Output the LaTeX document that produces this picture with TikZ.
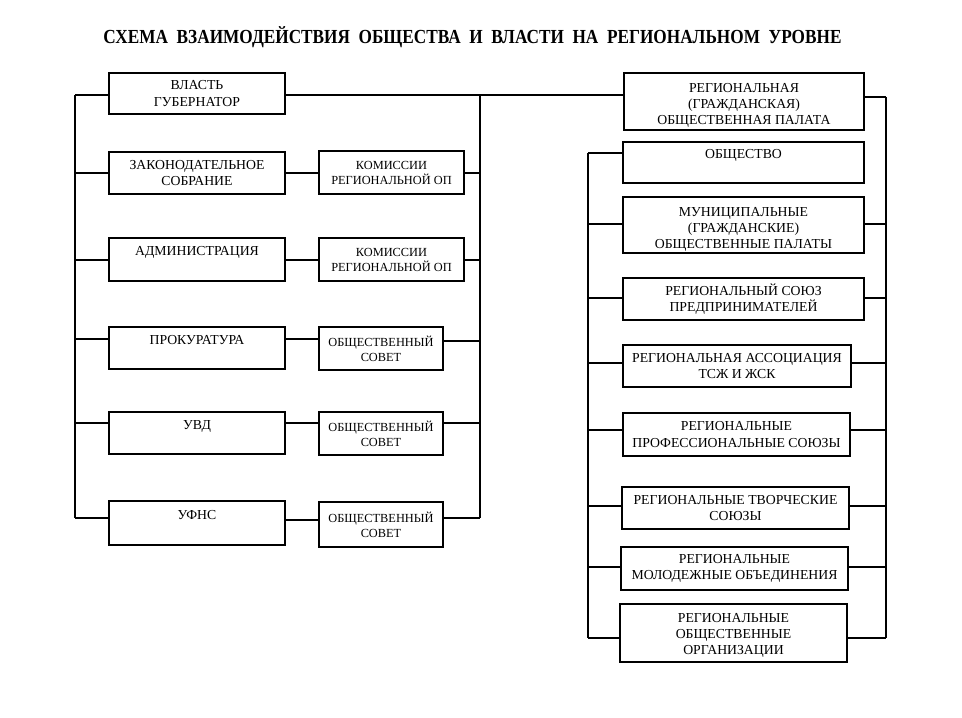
\documentclass[tikz,border=0pt]{standalone}
\usepackage{fontspec}
\setmainfont{Liberation Serif}
\begin{document}
\begin{tikzpicture}[x=1bp,y=-1bp,
  box/.style={draw=black, line width=2bp, align=center, inner sep=0pt,
    font=\fontsize{13.8}{17}\selectfont},
  midbox/.style={box, font=\fontsize{12.4}{15}\selectfont},
  rbox/.style={box, font=\fontsize{13.8}{16.2}\selectfont},
  conn/.style={draw=black, line width=2bp}]
\useasboundingbox[fill=white] (0,0) rectangle (962,718);
% title
\node[font=\fontsize{20}{24}\selectfont\bfseries] (title) at (472.5,37)
  {\scalebox{0.865}[1]{СХЕМА\ \ ВЗАИМОДЕЙСТВИЯ\ \ ОБЩЕСТВА\ \ И\ \ ВЛАСТИ\ \ НА\ \ РЕГИОНАЛЬНОМ\ \ УРОВНЕ}};
% left column
\node[box, minimum width=176bp, minimum height=41bp] (gov) at (197,93.5) {ВЛАСТЬ\\ГУБЕРНАТОР};
\node[box, minimum width=176bp, minimum height=42bp] (zak) at (197,173) {ЗАКОНОДАТЕЛЬНОЕ\\СОБРАНИЕ};
\node[box, minimum width=176bp, minimum height=43bp] (adm) at (197,259.5) {АДМИНИСТРАЦИЯ\\\mbox{}};
\node[box, minimum width=176bp, minimum height=42bp] (prok) at (197,348) {ПРОКУРАТУРА\\\mbox{}};
\node[box, minimum width=176bp, minimum height=42bp] (uvd) at (197,433) {УВД\\\mbox{}};
\node[box, minimum width=176bp, minimum height=44bp] (ufns) at (197,523) {УФНС\\\mbox{}};
% middle column
\node[midbox, minimum width=145bp, minimum height=43bp] (kom1) at (391.5,172.5) {КОМИССИИ\\РЕГИОНАЛЬНОЙ ОП};
\node[midbox, minimum width=145bp, minimum height=43bp] (kom2) at (391.5,259.5) {КОМИССИИ\\РЕГИОНАЛЬНОЙ ОП};
\node[midbox, minimum width=124bp, minimum height=43bp] (sov1) at (381,348.5) {ОБЩЕСТВЕННЫЙ\\СОВЕТ};
\node[midbox, minimum width=124bp, minimum height=43bp] (sov2) at (381,433.5) {ОБЩЕСТВЕННЫЙ\\СОВЕТ};
\node[midbox, minimum width=124bp, minimum height=45bp] (sov3) at (381,524.5) {ОБЩЕСТВЕННЫЙ\\СОВЕТ};
% right column
\node[rbox, minimum width=240bp, minimum height=57bp] (rop) at (744,101.5) {\rule{0pt}{17pt}РЕГИОНАЛЬНАЯ\\(ГРАЖДАНСКАЯ)\\ОБЩЕСТВЕННАЯ ПАЛАТА};
\node[rbox, minimum width=241bp, minimum height=41bp] (obsh) at (743.5,162.5) {ОБЩЕСТВО\\\mbox{}};
\node[rbox, minimum width=241bp, minimum height=56bp] (mun) at (743.5,225) {\rule{0pt}{18pt}МУНИЦИПАЛЬНЫЕ\\(ГРАЖДАНСКИЕ)\\ОБЩЕСТВЕННЫЕ ПАЛАТЫ};
\node[rbox, minimum width=241bp, minimum height=42bp] (soyuz) at (743.5,299) {РЕГИОНАЛЬНЫЙ СОЮЗ\\ПРЕДПРИНИМАТЕЛЕЙ};
\node[rbox, minimum width=228bp, minimum height=42bp] (assoc) at (737,366) {РЕГИОНАЛЬНАЯ АССОЦИАЦИЯ\\ТСЖ И ЖСК};
\node[rbox, minimum width=227bp, minimum height=43bp] (prof) at (736.5,434.5) {РЕГИОНАЛЬНЫЕ\\ПРОФЕССИОНАЛЬНЫЕ СОЮЗЫ};
\node[rbox, minimum width=227bp, minimum height=42bp] (tvor) at (735.5,508) {РЕГИОНАЛЬНЫЕ ТВОРЧЕСКИЕ\\СОЮЗЫ};
\node[rbox, minimum width=227bp, minimum height=43bp] (mol) at (734.5,568.5) {РЕГИОНАЛЬНЫЕ\\МОЛОДЕЖНЫЕ ОБЪЕДИНЕНИЯ};
\node[rbox, minimum width=227bp, minimum height=58bp] (org) at (733.5,633) {\rule{0pt}{14.2pt}РЕГИОНАЛЬНЫЕ\\ОБЩЕСТВЕННЫЕ\\ОРГАНИЗАЦИИ};
% bus coordinates
\coordinate (lbT) at (75,95);
\coordinate (lbB) at (75,518);
\coordinate (rbT) at (480,95);
\coordinate (rbB) at (480,518);
\coordinate (RlT) at (588,153);
\coordinate (RlB) at (588,638);
\coordinate (RrT) at (886,97);
\coordinate (RrB) at (886,638);
% left buses
\draw[conn] (lbT) -- (lbB);
\draw[conn] (rbT) -- (rbB);
\draw[conn] (lbT) -- (gov.west |- lbT);
\draw[conn] (lbT |- 0,173) -- (zak.west |- 0,173);
\draw[conn] (lbT |- 0,260) -- (adm.west |- 0,260);
\draw[conn] (lbT |- 0,339) -- (prok.west |- 0,339);
\draw[conn] (lbT |- 0,423) -- (uvd.west |- 0,423);
\draw[conn] (lbB) -- (ufns.west |- lbB);
\draw[conn] (zak.east |- 0,173) -- (kom1.west |- 0,173);
\draw[conn] (adm.east |- 0,260) -- (kom2.west |- 0,260);
\draw[conn] (prok.east |- 0,339) -- (sov1.west |- 0,339);
\draw[conn] (uvd.east |- 0,423) -- (sov2.west |- 0,423);
\draw[conn] (ufns.east |- 0,520) -- (sov3.west |- 0,520);
\draw[conn] (kom1.east |- 0,173) -- (rbT |- 0,173);
\draw[conn] (kom2.east |- 0,260) -- (rbT |- 0,260);
\draw[conn] (sov1.east |- 0,341) -- (rbT |- 0,341);
\draw[conn] (sov2.east |- 0,423) -- (rbT |- 0,423);
\draw[conn] (sov3.east |- rbB) -- (rbB);
% top link
\draw[conn] (gov.east |- rbT) -- (rop.west |- rbT);
% right buses
\draw[conn] (RlT) -- (RlB);
\draw[conn] (RrT) -- (RrB);
\draw[conn] (rop.east |- RrT) -- (RrT);
\draw[conn] (RlT) -- (obsh.west |- RlT);
\draw[conn] (RlT |- 0,224) -- (mun.west |- 0,224);
\draw[conn] (mun.east |- 0,224) -- (RrT |- 0,224);
\draw[conn] (RlT |- 0,298) -- (soyuz.west |- 0,298);
\draw[conn] (soyuz.east |- 0,298) -- (RrT |- 0,298);
\draw[conn] (RlT |- 0,363) -- (assoc.west |- 0,363);
\draw[conn] (assoc.east |- 0,363) -- (RrT |- 0,363);
\draw[conn] (RlT |- 0,430) -- (prof.west |- 0,430);
\draw[conn] (prof.east |- 0,430) -- (RrT |- 0,430);
\draw[conn] (RlT |- 0,506) -- (tvor.west |- 0,506);
\draw[conn] (tvor.east |- 0,506) -- (RrT |- 0,506);
\draw[conn] (RlT |- 0,567) -- (mol.west |- 0,567);
\draw[conn] (mol.east |- 0,567) -- (RrT |- 0,567);
\draw[conn] (RlB) -- (org.west |- RlB);
\draw[conn] (org.east |- RrB) -- (RrB);
\end{tikzpicture}
\end{document}
